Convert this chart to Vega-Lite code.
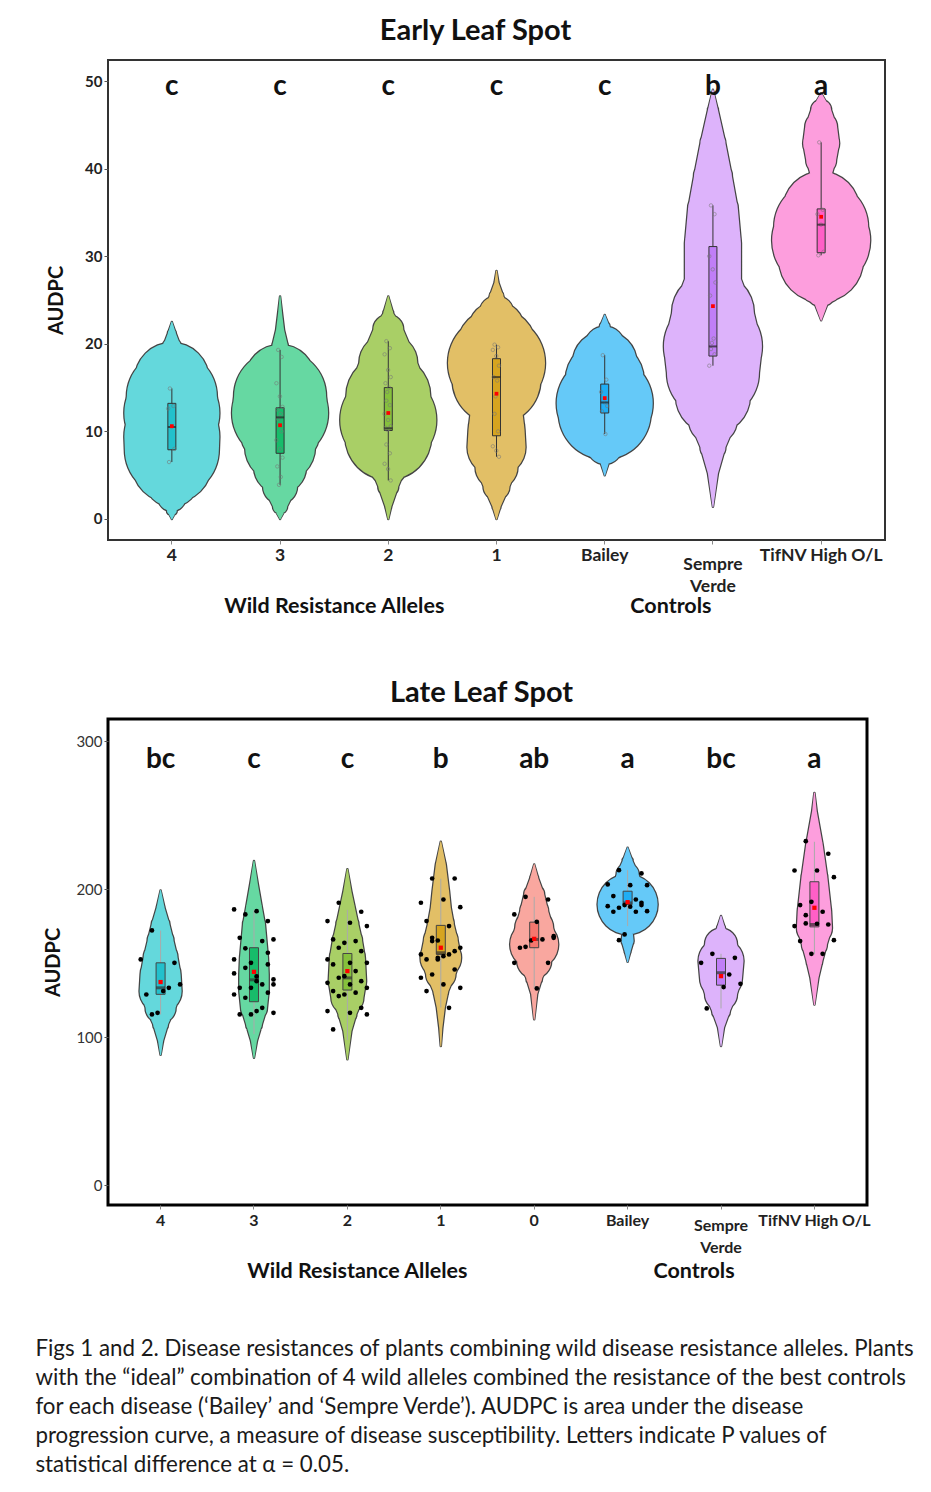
{
"$schema": "https://vega.github.io/schema/vega-lite/v6.json",
"background": "white",
"padding": {"left": 35, "top": 16, "right": 10, "bottom": 10},
"config": {
 "font": "Lato",
 "title": {"font": "Lato", "fontWeight": "bold", "color": "#111"},
 "axis": {"labelFont": "Lato", "titleFont": "Lato", "grid": false, "domain": false},
 "axisY": {"titleFontSize": 20, "titleFontWeight": "bold", "titleColor": "#111", "labelFontSize": 15, "tickSize": 4, "tickColor": "#555", "labelColor": "#222"},
 "legend": {"disable": true}
},
"datasets": {
 "vioE": [
  {"g":"4","v":0,"w":0},{"g":"4","v":1,"w":5},{"g":"4","v":2.5,"w":14},{"g":"4","v":4.5,"w":27},{"g":"4","v":6.4,"w":40},{"g":"4","v":7.9,"w":47},{"g":"4","v":9.4,"w":47.5},{"g":"4","v":10.9,"w":46},{"g":"4","v":12.1,"w":47.5},{"g":"4","v":14,"w":45},{"g":"4","v":15.9,"w":37},{"g":"4","v":17.8,"w":21},{"g":"4","v":19.7,"w":9},{"g":"4","v":21.2,"w":4},{"g":"4","v":22.5,"w":0},
  {"g":"3","v":0,"w":0},{"g":"3","v":1.4,"w":7},{"g":"3","v":3.7,"w":17},{"g":"3","v":5.9,"w":26},{"g":"3","v":8.2,"w":35},{"g":"3","v":10.2,"w":40},{"g":"3","v":12.1,"w":48},{"g":"3","v":14,"w":46},{"g":"3","v":15.9,"w":35},{"g":"3","v":17.8,"w":16},{"g":"3","v":19.7,"w":8},{"g":"3","v":21.6,"w":4},{"g":"3","v":23.5,"w":2},{"g":"3","v":25.4,"w":0},
  {"g":"2","v":0,"w":0},{"g":"2","v":1.4,"w":3},{"g":"2","v":3.7,"w":10},{"g":"2","v":5.9,"w":18},{"g":"2","v":7.5,"w":28},{"g":"2","v":9.4,"w":43},{"g":"2","v":11.3,"w":48},{"g":"2","v":14,"w":42},{"g":"2","v":17.8,"w":29},{"g":"2","v":21.6,"w":15},{"g":"2","v":23.5,"w":5},{"g":"2","v":25.4,"w":0},
  {"g":"1","v":0,"w":0},{"g":"1","v":1.4,"w":4},{"g":"1","v":3.7,"w":13},{"g":"1","v":5.9,"w":21},{"g":"1","v":8.2,"w":29},{"g":"1","v":10.2,"w":28},{"g":"1","v":12.1,"w":26},{"g":"1","v":14,"w":31},{"g":"1","v":15.9,"w":44},{"g":"1","v":17.8,"w":48.5},{"g":"1","v":19.5,"w":40},{"g":"1","v":21.6,"w":28},{"g":"1","v":23.5,"w":17},{"g":"1","v":25.4,"w":7},{"g":"1","v":27,"w":2},{"g":"1","v":28.3,"w":0},
  {"g":"Bailey","v":5,"w":0},{"g":"Bailey","v":6.7,"w":5},{"g":"Bailey","v":8.2,"w":17},{"g":"Bailey","v":10.2,"w":31},{"g":"Bailey","v":12.1,"w":46},{"g":"Bailey","v":13.2,"w":48},{"g":"Bailey","v":15.9,"w":39},{"g":"Bailey","v":17.8,"w":32},{"g":"Bailey","v":19.7,"w":20},{"g":"Bailey","v":21.95,"w":5},{"g":"Bailey","v":23.3,"w":0},
  {"g":"Sempre Verde","v":1.4,"w":0},{"g":"Sempre Verde","v":5.2,"w":5},{"g":"Sempre Verde","v":8.2,"w":12.5},{"g":"Sempre Verde","v":11.3,"w":24},{"g":"Sempre Verde","v":14,"w":37},{"g":"Sempre Verde","v":16.7,"w":46},{"g":"Sempre Verde","v":19.7,"w":49},{"g":"Sempre Verde","v":23.5,"w":41},{"g":"Sempre Verde","v":27.4,"w":28},{"g":"Sempre Verde","v":31.5,"w":28},{"g":"Sempre Verde","v":35.3,"w":25},{"g":"Sempre Verde","v":39.1,"w":19},{"g":"Sempre Verde","v":42.9,"w":12.5},{"g":"Sempre Verde","v":46.7,"w":5},{"g":"Sempre Verde","v":49,"w":0},
  {"g":"TifNV High O/L","v":22.7,"w":0},{"g":"TifNV High O/L","v":25,"w":8},{"g":"TifNV High O/L","v":26,"w":15},{"g":"TifNV High O/L","v":27.5,"w":26},{"g":"TifNV High O/L","v":29.6,"w":42},{"g":"TifNV High O/L","v":31.8,"w":49},{"g":"TifNV High O/L","v":33.3,"w":47},{"g":"TifNV High O/L","v":35.3,"w":38},{"g":"TifNV High O/L","v":37.2,"w":23},{"g":"TifNV High O/L","v":39.1,"w":10},{"g":"TifNV High O/L","v":41,"w":15},{"g":"TifNV High O/L","v":42.9,"w":18},{"g":"TifNV High O/L","v":44.7,"w":16},{"g":"TifNV High O/L","v":46.7,"w":10},{"g":"TifNV High O/L","v":48.6,"w":0}
 ],
 "boxE": [
  {"g":"4","lo":6.5,"q1":7.9,"med":10.5,"q3":13.2,"hi":14.9,"mean":10.6},
  {"g":"3","lo":3.9,"q1":7.5,"med":11.6,"q3":12.7,"hi":19.3,"mean":10.7},
  {"g":"2","lo":4.4,"q1":10.1,"med":10.35,"q3":15.0,"hi":20.3,"mean":12.1},
  {"g":"1","lo":7.1,"q1":9.5,"med":16.2,"q3":18.3,"hi":19.9,"mean":14.3},
  {"g":"Bailey","lo":9.7,"q1":12.1,"med":13.3,"q3":15.4,"hi":18.7,"mean":13.8},
  {"g":"Sempre Verde","lo":17.5,"q1":18.6,"med":19.7,"q3":31.1,"hi":35.8,"mean":24.3},
  {"g":"TifNV High O/L","lo":30.1,"q1":30.4,"med":33.6,"q3":35.4,"hi":43.0,"mean":34.5}
 ],
 "ptsE": [
  {"g":"4","v":14.9,"rep":3},{"g":"4","v":12.9,"rep":7},{"g":"4","v":12.6,"rep":1},{"g":"4","v":10.5,"rep":5},{"g":"4","v":8.0,"rep":8},{"g":"4","v":6.5,"rep":2},
  {"g":"3","v":19.3,"rep":3},{"g":"3","v":18.5,"rep":7},{"g":"3","v":15.5,"rep":1},{"g":"3","v":14.0,"rep":5},{"g":"3","v":12.8,"rep":8},{"g":"3","v":12.5,"rep":2},{"g":"3","v":12.0,"rep":6},{"g":"3","v":11.6,"rep":4},{"g":"3","v":11.4,"rep":3},{"g":"3","v":10.0,"rep":7},{"g":"3","v":9.0,"rep":1},{"g":"3","v":8.0,"rep":5},{"g":"3","v":7.0,"rep":8},{"g":"3","v":6.0,"rep":2},{"g":"3","v":4.8,"rep":6},{"g":"3","v":3.9,"rep":4},
  {"g":"2","v":20.3,"rep":3},{"g":"2","v":19.5,"rep":7},{"g":"2","v":18.8,"rep":1},{"g":"2","v":17.0,"rep":5},{"g":"2","v":16.2,"rep":8},{"g":"2","v":15.5,"rep":2},{"g":"2","v":15.0,"rep":6},{"g":"2","v":14.5,"rep":4},{"g":"2","v":13.5,"rep":3},{"g":"2","v":13.0,"rep":7},{"g":"2","v":12.0,"rep":1},{"g":"2","v":11.3,"rep":5},{"g":"2","v":10.6,"rep":8},{"g":"2","v":10.4,"rep":2},{"g":"2","v":10.3,"rep":6},{"g":"2","v":10.2,"rep":4},{"g":"2","v":8.5,"rep":3},{"g":"2","v":7.5,"rep":7},{"g":"2","v":6.3,"rep":1},{"g":"2","v":5.7,"rep":5},{"g":"2","v":4.4,"rep":8},
  {"g":"1","v":19.9,"rep":3},{"g":"1","v":19.6,"rep":7},{"g":"1","v":19.3,"rep":1},{"g":"1","v":18.6,"rep":5},{"g":"1","v":17.5,"rep":8},{"g":"1","v":16.2,"rep":2},{"g":"1","v":15.8,"rep":6},{"g":"1","v":14.0,"rep":4},{"g":"1","v":12.0,"rep":3},{"g":"1","v":10.0,"rep":7},{"g":"1","v":8.3,"rep":1},{"g":"1","v":7.8,"rep":5},{"g":"1","v":7.1,"rep":8},
  {"g":"Bailey","v":18.7,"rep":3},{"g":"Bailey","v":15.9,"rep":7},{"g":"Bailey","v":14.5,"rep":1},{"g":"Bailey","v":13.3,"rep":5},{"g":"Bailey","v":12.9,"rep":8},{"g":"Bailey","v":12.3,"rep":2},{"g":"Bailey","v":9.7,"rep":6},
  {"g":"Sempre Verde","v":35.8,"rep":3},{"g":"Sempre Verde","v":34.8,"rep":7},{"g":"Sempre Verde","v":30.0,"rep":1},{"g":"Sempre Verde","v":28.5,"rep":5},{"g":"Sempre Verde","v":27.0,"rep":8},{"g":"Sempre Verde","v":25.5,"rep":2},{"g":"Sempre Verde","v":20.6,"rep":6},{"g":"Sempre Verde","v":20.1,"rep":4},{"g":"Sempre Verde","v":19.4,"rep":3},{"g":"Sempre Verde","v":18.8,"rep":7},{"g":"Sempre Verde","v":17.5,"rep":1},
  {"g":"TifNV High O/L","v":43.0,"rep":3},{"g":"TifNV High O/L","v":35.3,"rep":7},{"g":"TifNV High O/L","v":34.8,"rep":1},{"g":"TifNV High O/L","v":33.6,"rep":5},{"g":"TifNV High O/L","v":30.5,"rep":8},{"g":"TifNV High O/L","v":30.1,"rep":2}
 ],
 "letE": [
  {"g":"4","y":48.4,"lab":"c"},{"g":"3","y":48.4,"lab":"c"},{"g":"2","y":48.4,"lab":"c"},{"g":"1","y":48.4,"lab":"c"},{"g":"Bailey","y":48.4,"lab":"c"},{"g":"Sempre Verde","y":48.4,"lab":"b"},{"g":"TifNV High O/L","y":48.4,"lab":"a"}
 ],
 "vioL": [
  {"g":"4","v":88,"w":0},{"g":"4","v":97.3,"w":2.5},{"g":"4","v":108.6,"w":7.5},{"g":"4","v":119.8,"w":15},{"g":"4","v":131,"w":21},{"g":"4","v":142.3,"w":20},{"g":"4","v":153.6,"w":17},{"g":"4","v":165,"w":13},{"g":"4","v":176,"w":9},{"g":"4","v":187.4,"w":4},{"g":"4","v":199,"w":0},
  {"g":"3","v":86,"w":0},{"g":"3","v":97.3,"w":3},{"g":"3","v":108.6,"w":8},{"g":"3","v":119.8,"w":13},{"g":"3","v":131,"w":14.7},{"g":"3","v":142.4,"w":14.7},{"g":"3","v":153.6,"w":14},{"g":"3","v":165,"w":12.5},{"g":"3","v":176.3,"w":11},{"g":"3","v":187.4,"w":8},{"g":"3","v":203,"w":4},{"g":"3","v":219,"w":0},
  {"g":"2","v":85,"w":0},{"g":"2","v":104,"w":4},{"g":"2","v":115.5,"w":9},{"g":"2","v":126.6,"w":16},{"g":"2","v":137.8,"w":18.7},{"g":"2","v":153.6,"w":17.5},{"g":"2","v":165,"w":14.7},{"g":"2","v":176.3,"w":11},{"g":"2","v":187.4,"w":7.5},{"g":"2","v":198.6,"w":4},{"g":"2","v":213.5,"w":0},
  {"g":"1","v":94,"w":0},{"g":"1","v":106,"w":1.5},{"g":"1","v":119.8,"w":4},{"g":"1","v":131,"w":7.5},{"g":"1","v":142.4,"w":14.7},{"g":"1","v":153.6,"w":20.3},{"g":"1","v":165,"w":17},{"g":"1","v":176.3,"w":13},{"g":"1","v":187.4,"w":10},{"g":"1","v":198.6,"w":8.3},{"g":"1","v":216.7,"w":5},{"g":"1","v":232,"w":0},
  {"g":"0","v":112,"w":0},{"g":"0","v":128.9,"w":3},{"g":"0","v":140,"w":8},{"g":"0","v":151.4,"w":17},{"g":"0","v":162.6,"w":24},{"g":"0","v":173.8,"w":19},{"g":"0","v":185,"w":14},{"g":"0","v":196.4,"w":10},{"g":"0","v":207.6,"w":4},{"g":"0","v":216.7,"w":0},
  {"g":"Bailey","v":151,"w":0},{"g":"Bailey","v":158,"w":3},{"g":"Bailey","v":165,"w":6},{"g":"Bailey","v":171.6,"w":5},{"g":"Bailey","v":177,"w":7},{"g":"Bailey","v":182.5,"w":14},{"g":"Bailey","v":187,"w":25},{"g":"Bailey","v":189.7,"w":30},{"g":"Bailey","v":192.5,"w":25},{"g":"Bailey","v":197,"w":18},{"g":"Bailey","v":203,"w":14},{"g":"Bailey","v":210,"w":11},{"g":"Bailey","v":219,"w":5},{"g":"Bailey","v":228,"w":0},
  {"g":"Sempre Verde","v":94,"w":0},{"g":"Sempre Verde","v":106.3,"w":3},{"g":"Sempre Verde","v":117.6,"w":9},{"g":"Sempre Verde","v":128.9,"w":16},{"g":"Sempre Verde","v":140,"w":21},{"g":"Sempre Verde","v":151.4,"w":22.5},{"g":"Sempre Verde","v":162.6,"w":16},{"g":"Sempre Verde","v":173.8,"w":4},{"g":"Sempre Verde","v":181.8,"w":0},
  {"g":"TifNV High O/L","v":122,"w":0},{"g":"TifNV High O/L","v":140,"w":4},{"g":"TifNV High O/L","v":151.4,"w":8},{"g":"TifNV High O/L","v":162.6,"w":12.5},{"g":"TifNV High O/L","v":173.8,"w":17.5},{"g":"TifNV High O/L","v":185,"w":16.7},{"g":"TifNV High O/L","v":207.6,"w":13},{"g":"TifNV High O/L","v":230,"w":8.3},{"g":"TifNV High O/L","v":252.7,"w":2.3},{"g":"TifNV High O/L","v":265,"w":0}
 ],
 "boxL": [
  {"g":"4","lo":115.3,"q1":128.9,"med":133.3,"q3":150.2,"hi":172,"mean":137.2},
  {"g":"3","lo":102,"q1":123.9,"med":138.7,"q3":160.4,"hi":186,"mean":144.1},
  {"g":"2","lo":98,"q1":131.8,"med":140,"q3":156.5,"hi":186,"mean":144.6},
  {"g":"1","lo":120,"q1":155.9,"med":157,"q3":175.5,"hi":207,"mean":160.4},
  {"g":"0","lo":132.9,"q1":160.4,"med":166,"q3":177.7,"hi":194.8,"mean":166.4},
  {"g":"Bailey","lo":175,"q1":189.6,"med":190.7,"q3":198.6,"hi":212.8,"mean":191.2},
  {"g":"Sempre Verde","lo":119.4,"q1":135.1,"med":143.5,"q3":153.2,"hi":156.3,"mean":141.2},
  {"g":"TifNV High O/L","lo":155.9,"q1":174.5,"med":176.1,"q3":205,"hi":232,"mean":187.4}
 ],
 "ptsL": [
  {"g":"4","v":172.1,"rep":3},{"g":"4","v":150.2,"rep":7},{"g":"4","v":152.5,"rep":1},{"g":"4","v":131.1,"rep":5},{"g":"4","v":135.6,"rep":8},{"g":"4","v":128.8,"rep":2},{"g":"4","v":133.3,"rep":6},{"g":"4","v":116.4,"rep":4},{"g":"4","v":115.3,"rep":3},
  {"g":"3","v":182.9,"rep":3},{"g":"3","v":178.4,"rep":7},{"g":"3","v":186.3,"rep":1},{"g":"3","v":185.1,"rep":5},{"g":"3","v":166,"rep":8},{"g":"3","v":167.1,"rep":2},{"g":"3","v":164.9,"rep":6},{"g":"3","v":150.2,"rep":4},{"g":"3","v":146.8,"rep":3},{"g":"3","v":149.1,"rep":7},{"g":"3","v":152.5,"rep":1},{"g":"3","v":137.8,"rep":5},{"g":"3","v":135.6,"rep":8},{"g":"3","v":133.3,"rep":2},{"g":"3","v":135.6,"rep":6},{"g":"3","v":133.3,"rep":4},{"g":"3","v":126.6,"rep":3},{"g":"3","v":130,"rep":7},{"g":"3","v":128.8,"rep":1},{"g":"3","v":117.6,"rep":5},{"g":"3","v":116.4,"rep":8},{"g":"3","v":115.3,"rep":2},{"g":"3","v":119.8,"rep":6},{"g":"3","v":115.3,"rep":4},{"g":"3","v":160,"rep":3},{"g":"3","v":157,"rep":7},{"g":"3","v":143,"rep":1},{"g":"3","v":141,"rep":5},{"g":"3","v":139,"rep":8},
  {"g":"2","v":190.8,"rep":3},{"g":"2","v":184.7,"rep":7},{"g":"2","v":178.4,"rep":1},{"g":"2","v":177.3,"rep":5},{"g":"2","v":175,"rep":8},{"g":"2","v":166,"rep":2},{"g":"2","v":164.9,"rep":6},{"g":"2","v":163.7,"rep":4},{"g":"2","v":160.4,"rep":3},{"g":"2","v":158.1,"rep":7},{"g":"2","v":152.5,"rep":1},{"g":"2","v":150.2,"rep":5},{"g":"2","v":150.2,"rep":8},{"g":"2","v":149.1,"rep":2},{"g":"2","v":144.6,"rep":6},{"g":"2","v":141.2,"rep":4},{"g":"2","v":140.1,"rep":3},{"g":"2","v":137.8,"rep":7},{"g":"2","v":136.7,"rep":1},{"g":"2","v":135.6,"rep":5},{"g":"2","v":133.3,"rep":8},{"g":"2","v":131.1,"rep":2},{"g":"2","v":130,"rep":6},{"g":"2","v":128.8,"rep":4},{"g":"2","v":127.7,"rep":3},{"g":"2","v":119.8,"rep":7},{"g":"2","v":117.6,"rep":1},{"g":"2","v":116.4,"rep":5},{"g":"2","v":115.3,"rep":8},{"g":"2","v":105.2,"rep":2},
  {"g":"1","v":207.2,"rep":3},{"g":"1","v":207.2,"rep":7},{"g":"1","v":190.8,"rep":1},{"g":"1","v":193,"rep":5},{"g":"1","v":187.8,"rep":8},{"g":"1","v":178.4,"rep":2},{"g":"1","v":175,"rep":6},{"g":"1","v":165.3,"rep":4},{"g":"1","v":164.9,"rep":3},{"g":"1","v":158.1,"rep":7},{"g":"1","v":155.9,"rep":1},{"g":"1","v":154.7,"rep":5},{"g":"1","v":160.4,"rep":8},{"g":"1","v":152.5,"rep":2},{"g":"1","v":155.9,"rep":6},{"g":"1","v":152.5,"rep":4},{"g":"1","v":142.3,"rep":3},{"g":"1","v":145.7,"rep":7},{"g":"1","v":140.1,"rep":1},{"g":"1","v":135.6,"rep":5},{"g":"1","v":133.3,"rep":8},{"g":"1","v":131.1,"rep":2},{"g":"1","v":119.8,"rep":6},{"g":"1","v":153.6,"rep":4},{"g":"1","v":167.1,"rep":3},
  {"g":"0","v":194.8,"rep":3},{"g":"0","v":193,"rep":7},{"g":"0","v":182.9,"rep":1},{"g":"0","v":177.9,"rep":5},{"g":"0","v":168.2,"rep":8},{"g":"0","v":160.4,"rep":2},{"g":"0","v":166,"rep":6},{"g":"0","v":165.3,"rep":4},{"g":"0","v":161,"rep":3},{"g":"0","v":150.2,"rep":7},{"g":"0","v":150.2,"rep":1},{"g":"0","v":132.9,"rep":5},{"g":"0","v":167.1,"rep":8},
  {"g":"Bailey","v":212.8,"rep":3},{"g":"Bailey","v":210.6,"rep":7},{"g":"Bailey","v":203.2,"rep":1},{"g":"Bailey","v":202.7,"rep":5},{"g":"Bailey","v":202.7,"rep":8},{"g":"Bailey","v":195.3,"rep":2},{"g":"Bailey","v":193,"rep":6},{"g":"Bailey","v":189.2,"rep":4},{"g":"Bailey","v":187.4,"rep":3},{"g":"Bailey","v":189.2,"rep":7},{"g":"Bailey","v":188.5,"rep":1},{"g":"Bailey","v":188.1,"rep":5},{"g":"Bailey","v":185.1,"rep":8},{"g":"Bailey","v":184.7,"rep":2},{"g":"Bailey","v":184.7,"rep":6},{"g":"Bailey","v":169.4,"rep":4},{"g":"Bailey","v":165.5,"rep":3},{"g":"Bailey","v":190.8,"rep":7},
  {"g":"Sempre Verde","v":156.3,"rep":3},{"g":"Sempre Verde","v":153.6,"rep":7},{"g":"Sempre Verde","v":150.2,"rep":1},{"g":"Sempre Verde","v":133.8,"rep":5},{"g":"Sempre Verde","v":136,"rep":8},{"g":"Sempre Verde","v":119.4,"rep":2},{"g":"Sempre Verde","v":142.3,"rep":6},
  {"g":"TifNV High O/L","v":232.4,"rep":3},{"g":"TifNV High O/L","v":223.9,"rep":7},{"g":"TifNV High O/L","v":212.6,"rep":1},{"g":"TifNV High O/L","v":212.6,"rep":5},{"g":"TifNV High O/L","v":208.1,"rep":8},{"g":"TifNV High O/L","v":189.2,"rep":2},{"g":"TifNV High O/L","v":184.7,"rep":6},{"g":"TifNV High O/L","v":191.4,"rep":4},{"g":"TifNV High O/L","v":176.8,"rep":3},{"g":"TifNV High O/L","v":176.1,"rep":7},{"g":"TifNV High O/L","v":175,"rep":1},{"g":"TifNV High O/L","v":176.6,"rep":5},{"g":"TifNV High O/L","v":165.5,"rep":8},{"g":"TifNV High O/L","v":164.9,"rep":2},{"g":"TifNV High O/L","v":156.3,"rep":6},{"g":"TifNV High O/L","v":156.3,"rep":4},{"g":"TifNV High O/L","v":182.4,"rep":3}
 ],
 "letL": [
  {"g":"4","y":281.8,"lab":"bc"},{"g":"3","y":281.8,"lab":"c"},{"g":"2","y":281.8,"lab":"c"},{"g":"1","y":281.8,"lab":"b"},{"g":"0","y":281.8,"lab":"ab"},{"g":"Bailey","y":281.8,"lab":"a"},{"g":"Sempre Verde","y":281.8,"lab":"bc"},{"g":"TifNV High O/L","y":281.8,"lab":"a"}
 ]
},
"title": {
 "text": [
  "Figs 1 and 2. Disease resistances of plants combining wild disease resistance alleles. Plants",
  "with the “ideal” combination of 4 wild alleles combined the resistance of the best controls",
  "for each disease (‘Bailey’ and  ‘Sempre Verde’). AUDPC is area under the disease",
  "progression curve, a measure of disease susceptibility. Letters indicate P values of",
  "statistical difference  at α = 0.05."
 ],
 "orient": "bottom", "anchor": "start", "frame": "bounds", "fontSize": 22.3, "fontWeight": "normal", "lineHeight": 29, "offset": 55, "dx": -7, "color": "#1a1a1a", "font": "Lato"
},
"spacing": 59,
"resolve": {"scale": {"x": "independent", "y": "independent", "color": "independent", "fill": "independent", "size": "independent", "xOffset": "independent"}},
"vconcat": [
 {
  "width": 777, "height": 480,
  "view": {"stroke": "#333", "strokeWidth": 2},
  "title": {"text": "Early Leaf Spot", "fontSize": 29, "dx": -21, "offset": 14},
  "resolve": {"scale": {"size": "independent"}, "axis": {"x": "independent"}},
  "layer": [
   {"data": {"name": "vioE"}, "mark": {"type": "trail", "color": "#444"},
    "encoding": {
     "x": {"field": "g", "type": "nominal", "scale": {"domain": ["4","3","2","1","Bailey","Sempre Verde","TifNV High O/L"], "paddingInner": 0, "paddingOuter": 0.09},
       "axis": {"title": null, "labelAngle": 0, "labelFontSize": 17.5, "labelFontWeight": "bold", "labelColor": "#222", "tickSize": 4, "tickColor": "#888", "labelBaseline": "top", "labelLineHeight": 22,
        "labelPadding": {"condition": {"test": "datum.value == 'Sempre Verde'", "value": 11}, "value": 2},
        "labelExpr": "datum.value == 'Sempre Verde' ? ['Sempre', 'Verde'] : datum.value"}},
     "y": {"field": "v", "type": "quantitative", "title": "AUDPC", "scale": {"domain": [-2.4, 52.4], "nice": false, "zero": false},
       "axis": {"values": [0,10,20,30,40,50], "labelFontWeight": "bold", "titlePadding": 18}},
     "size": {"field": "w", "type": "quantitative", "scale": {"domain": [0, 50], "range": [2.5, 102.5]}, "legend": null},
     "detail": {"field": "g"},
     "order": {"field": "v", "type": "quantitative"}
    }},
   {"data": {"name": "vioE"}, "mark": {"type": "trail"},
    "encoding": {
     "x": {"field": "g", "type": "nominal", "axis": null},
     "y": {"field": "v", "type": "quantitative", "title": "AUDPC"},
     "size": {"field": "w", "type": "quantitative", "scale": {"domain": [0, 50], "range": [0, 100]}, "legend": null},
     "color": {"field": "g", "type": "nominal", "scale": {"domain": ["4","3","2","1","0","Bailey","Sempre Verde","TifNV High O/L"], "range": ["#64D8DC","#66D8A2","#A9CF66","#E2BF66","#F9A79F","#65C9F8","#DDB3FB","#FD9EDD"]}, "legend": null},
     "order": {"field": "v", "type": "quantitative"}
    }},
   {"data": {"name": "boxE"}, "mark": {"type": "rule", "color": "#333", "strokeWidth": 1},
    "encoding": {"x": {"field": "g", "type": "nominal", "axis": null}, "y": {"field": "lo", "type": "quantitative", "title": "AUDPC"}, "y2": {"field": "hi"}}},
   {"data": {"name": "boxE"}, "mark": {"type": "bar", "width": 8, "stroke": "#333", "strokeWidth": 1},
    "encoding": {"x": {"field": "g", "type": "nominal", "axis": null}, "y": {"field": "q1", "type": "quantitative", "title": "AUDPC"}, "y2": {"field": "q3"},
     "fill": {"field": "g", "type": "nominal", "scale": {"domain": ["4","3","2","1","0","Bailey","Sempre Verde","TifNV High O/L"], "range": ["#22C0CC","#17BC6A","#86C13C","#D6A41F","#F5776E","#20AEF5","#C07EF7","#FF5FC7"]}, "legend": null}}},
   {"data": {"name": "ptsE"}, "mark": {"type": "point", "shape": "circle", "size": 12, "filled": false, "color": "#777", "strokeWidth": 0.8},
    "encoding": {"x": {"field": "g", "type": "nominal", "axis": null}, "xOffset": {"field": "rep", "type": "nominal", "scale": {"range": [50, 57]}}, "y": {"field": "v", "type": "quantitative", "title": "AUDPC"}}},
   {"data": {"name": "boxE"}, "mark": {"type": "tick", "color": "#222", "thickness": 2, "size": 8},
    "encoding": {"x": {"field": "g", "type": "nominal", "axis": null}, "y": {"field": "med", "type": "quantitative", "title": "AUDPC"}}},
   {"data": {"name": "boxE"}, "mark": {"type": "point", "shape": "square", "size": 14, "filled": true, "color": "#FF0000", "opacity": 1},
    "encoding": {"x": {"field": "g", "type": "nominal", "axis": null}, "y": {"field": "mean", "type": "quantitative", "title": "AUDPC"}}},
   {"data": {"name": "letE"}, "mark": {"type": "text", "fontSize": 28, "fontWeight": "bold", "baseline": "alphabetic", "color": "#111", "font": "Lato"},
    "encoding": {
     "x": {"field": "g", "type": "nominal", "axis": {"orient": "bottom", "title": null, "ticks": false, "domain": false, "labelAngle": 0, "labelFontSize": 21.5, "labelFontWeight": "bold", "labelColor": "#111", "labelLimit": 0, "labelPadding": 55, "labelBaseline": "top",
       "labelOffset": {"condition": {"test": "datum.value == '2'", "value": -54}, "value": -42},
       "labelExpr": "datum.value == '2' ? 'Wild Resistance Alleles' : datum.value == 'Sempre Verde' ? 'Controls' : ''"}},
     "y": {"field": "y", "type": "quantitative", "title": "AUDPC"},
     "text": {"field": "lab"}
    }}
  ]
 },
 {
  "width": 759, "height": 486,
  "view": {"stroke": "#000", "strokeWidth": 3},
  "title": {"text": "Late Leaf Spot", "fontSize": 29, "dx": -6, "offset": 11},
  "resolve": {"scale": {"size": "independent"}, "axis": {"x": "independent"}},
  "layer": [
   {"data": {"name": "vioL"}, "mark": {"type": "trail", "color": "#444"},
    "encoding": {
     "x": {"field": "g", "type": "nominal", "scale": {"domain": ["4","3","2","1","0","Bailey","Sempre Verde","TifNV High O/L"], "paddingInner": 0, "paddingOuter": 0.063},
       "axis": {"title": null, "labelAngle": 0, "labelFontSize": 16, "labelFontWeight": "bold", "labelColor": "#222", "tickSize": 4, "tickColor": "#888", "labelBaseline": "top", "labelLineHeight": 22,
        "labelPadding": {"condition": {"test": "datum.value == 'Sempre Verde'", "value": 8}, "value": 3},
        "labelExpr": "datum.value == 'Sempre Verde' ? ['Sempre', 'Verde'] : datum.value"}},
     "y": {"field": "v", "type": "quantitative", "title": "AUDPC", "scale": {"domain": [-13.5, 315], "nice": false, "zero": false},
       "axis": {"values": [0,100,200,300], "labelFontWeight": "normal", "labelColor": "#333", "titlePadding": 12}},
     "size": {"field": "w", "type": "quantitative", "scale": {"domain": [0, 50], "range": [2.5, 102.5]}, "legend": null},
     "detail": {"field": "g"},
     "order": {"field": "v", "type": "quantitative"}
    }},
   {"data": {"name": "vioL"}, "mark": {"type": "trail"},
    "encoding": {
     "x": {"field": "g", "type": "nominal", "axis": null},
     "y": {"field": "v", "type": "quantitative", "title": "AUDPC"},
     "size": {"field": "w", "type": "quantitative", "scale": {"domain": [0, 50], "range": [0, 100]}, "legend": null},
     "color": {"field": "g", "type": "nominal", "scale": {"domain": ["4","3","2","1","0","Bailey","Sempre Verde","TifNV High O/L"], "range": ["#64D8DC","#66D8A2","#A9CF66","#E2BF66","#F9A79F","#65C9F8","#DDB3FB","#FD9EDD"]}, "legend": null},
     "order": {"field": "v", "type": "quantitative"}
    }},
   {"data": {"name": "boxL"}, "mark": {"type": "rule", "color": "#aaa", "strokeWidth": 1},
    "encoding": {"x": {"field": "g", "type": "nominal", "axis": null}, "y": {"field": "lo", "type": "quantitative", "title": "AUDPC"}, "y2": {"field": "hi"}}},
   {"data": {"name": "boxL"}, "mark": {"type": "bar", "width": 9, "stroke": "#444", "strokeWidth": 1},
    "encoding": {"x": {"field": "g", "type": "nominal", "axis": null}, "y": {"field": "q1", "type": "quantitative", "title": "AUDPC"}, "y2": {"field": "q3"},
     "fill": {"field": "g", "type": "nominal", "scale": {"domain": ["4","3","2","1","0","Bailey","Sempre Verde","TifNV High O/L"], "range": ["#22C0CC","#17BC6A","#86C13C","#D6A41F","#F5776E","#20AEF5","#C07EF7","#FF5FC7"]}, "legend": null}}},
   {"data": {"name": "boxL"}, "mark": {"type": "tick", "color": "#333", "thickness": 3, "size": 9},
    "encoding": {"x": {"field": "g", "type": "nominal", "axis": null}, "y": {"field": "med", "type": "quantitative", "title": "AUDPC"}}},
   {"data": {"name": "ptsL"}, "mark": {"type": "point", "shape": "circle", "size": 22, "filled": true, "color": "#000", "opacity": 1},
    "encoding": {"x": {"field": "g", "type": "nominal", "axis": null}, "xOffset": {"field": "rep", "type": "nominal", "scale": {"range": [24, 69]}}, "y": {"field": "v", "type": "quantitative", "title": "AUDPC"}}},
   {"data": {"name": "boxL"}, "mark": {"type": "point", "shape": "square", "size": 18, "filled": true, "color": "#FF0000", "opacity": 1},
    "encoding": {"x": {"field": "g", "type": "nominal", "axis": null}, "y": {"field": "mean", "type": "quantitative", "title": "AUDPC"}}},
   {"data": {"name": "letL"}, "mark": {"type": "text", "fontSize": 28, "fontWeight": "bold", "baseline": "alphabetic", "color": "#111", "font": "Lato"},
    "encoding": {
     "x": {"field": "g", "type": "nominal", "axis": {"orient": "bottom", "title": null, "ticks": false, "domain": false, "labelAngle": 0, "labelFontSize": 21.5, "labelFontWeight": "bold", "labelColor": "#111", "labelLimit": 0, "labelPadding": 55, "labelBaseline": "top",
       "labelOffset": {"condition": {"test": "datum.value == '2'", "value": 10}, "value": -27},
       "labelExpr": "datum.value == '2' ? 'Wild Resistance Alleles' : datum.value == 'Sempre Verde' ? 'Controls' : ''"}},
     "y": {"field": "y", "type": "quantitative", "title": "AUDPC"},
     "text": {"field": "lab"}
    }}
  ]
 }
]
}
